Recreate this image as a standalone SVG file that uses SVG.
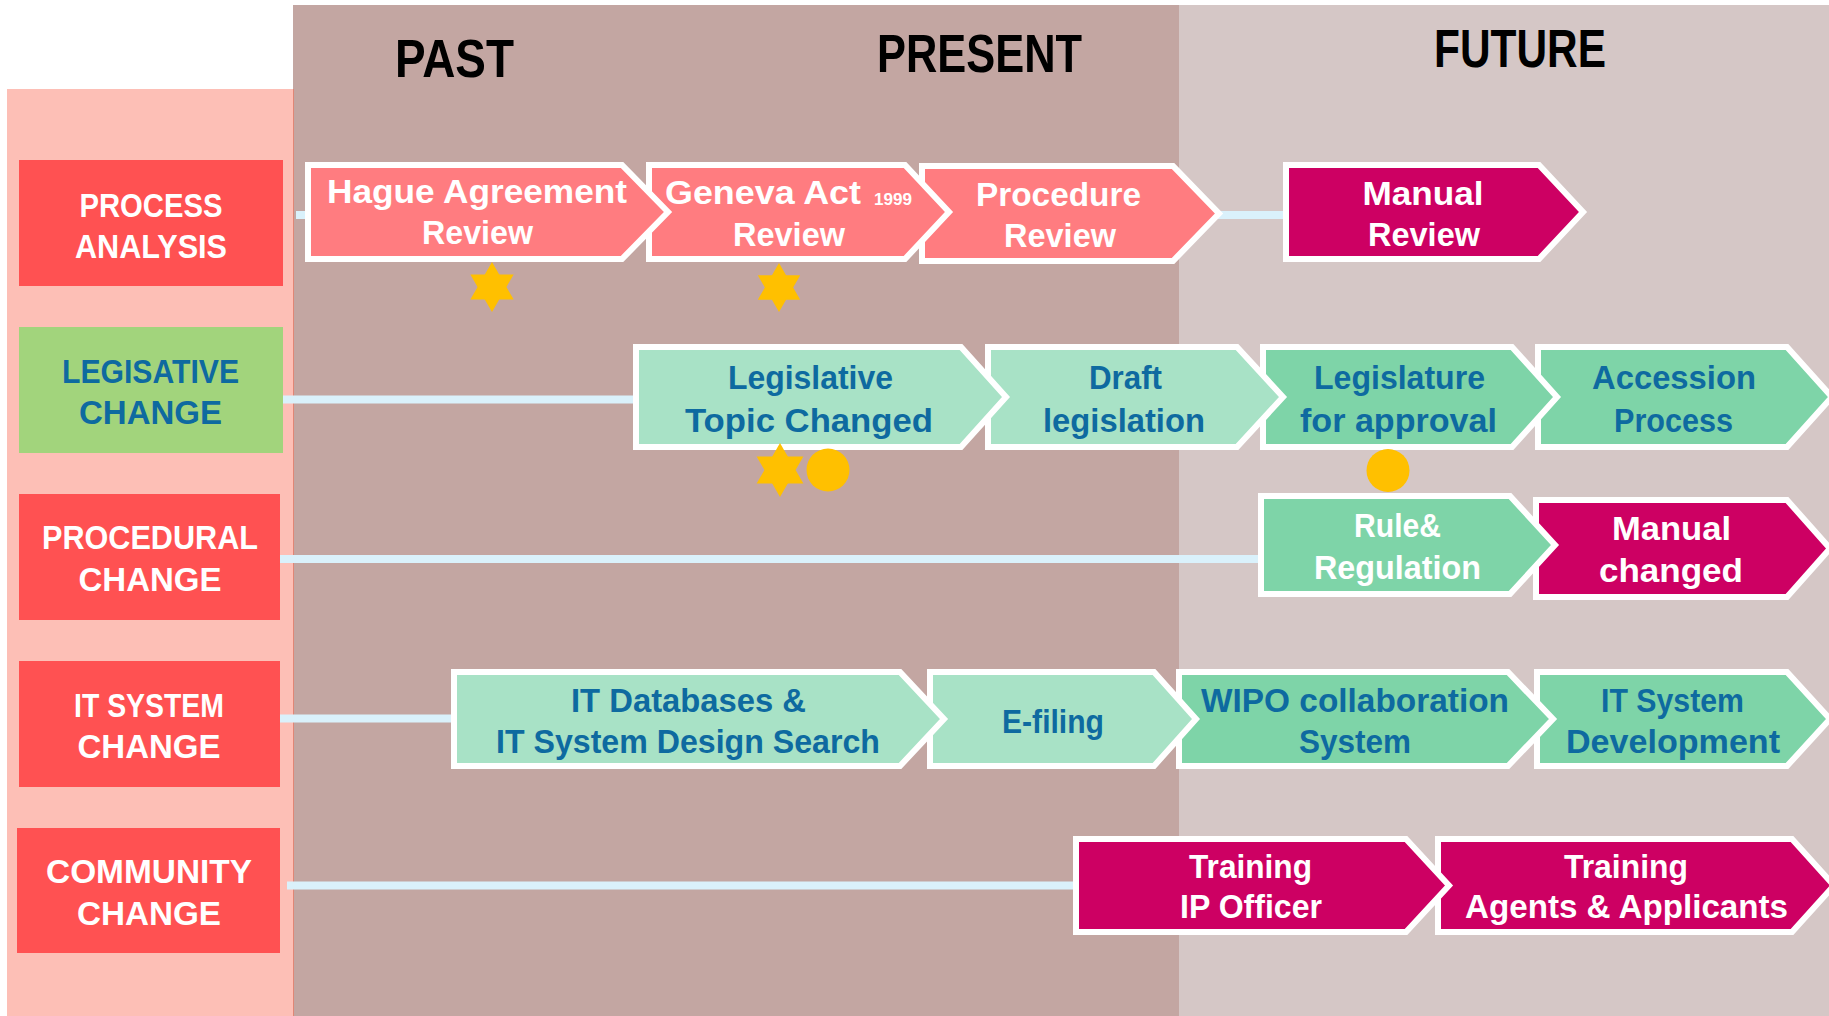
<svg xmlns="http://www.w3.org/2000/svg" width="1829" height="1016" viewBox="0 0 1829 1016">
<style>
text{font-family:"Liberation Sans",Arial,sans-serif;font-weight:bold;}
.hd{font-size:54px;fill:#000;}
.lb{font-size:34px;text-anchor:middle;}
.nt{font-size:33px;text-anchor:middle;}
.w{fill:#fff;}
.b{fill:#0E6AA0;}
.chev{stroke:#fff;stroke-width:6;stroke-linejoin:miter;}
.salmon{fill:#FF7C80;}
.mag{fill:#CD0063;}
.mint{fill:#A8E2C6;}
.green{fill:#7ED4A8;}
.red{fill:#FF5152;}
.lgreen{fill:#A2D47C;}
.conn{stroke:#DAF1FB;stroke-width:8;fill:none;}
.mark{fill:#FFC000;}
</style>
<defs>
<polygon id="star" points="0,-1 0.866,0.5 -0.866,0.5"/>
</defs>
<rect x="0" y="0" width="1829" height="1016" fill="#fff"/>
<rect x="7" y="89" width="286" height="927" fill="#FDBFB6"/>
<rect x="293" y="5" width="886" height="1011" fill="#C3A6A2"/>
<rect x="1179" y="5" width="650" height="1011" fill="#D5C7C6"/>
<line x1="293.5" y1="89" x2="293.5" y2="1016" stroke="#E08676" stroke-width="1"/>

<g id="headers">
<text class="hd" x="395" y="77" textLength="119" lengthAdjust="spacingAndGlyphs">PAST</text>
<text class="hd" x="877" y="72" textLength="205" lengthAdjust="spacingAndGlyphs">PRESENT</text>
<text class="hd" x="1434" y="67" textLength="172" lengthAdjust="spacingAndGlyphs">FUTURE</text>
</g>

<g id="connectors">
<line class="conn" x1="296" y1="215" x2="1290" y2="215"/>
<line class="conn" x1="283" y1="399.5" x2="640" y2="399.5"/>
<line class="conn" x1="280" y1="559" x2="1265" y2="559"/>
<line class="conn" x1="280" y1="718.5" x2="458" y2="718.5"/>
<line class="conn" x1="287" y1="885.5" x2="1080" y2="885.5"/>
</g>

<g id="label-process-analysis">
<rect class="red" x="19" y="160" width="264" height="126"/>
<text class="lb w" x="151" y="217" textLength="143" lengthAdjust="spacingAndGlyphs">PROCESS</text>
<text class="lb w" x="151" y="258" textLength="152" lengthAdjust="spacingAndGlyphs">ANALYSIS</text>
</g>
<g id="label-legislative-change">
<rect class="lgreen" x="19" y="327" width="264" height="126"/>
<text class="lb b" x="150.5" y="383" textLength="177" lengthAdjust="spacingAndGlyphs">LEGISATIVE</text>
<text class="lb b" x="150.5" y="424" textLength="143" lengthAdjust="spacingAndGlyphs">CHANGE</text>
</g>
<g id="label-procedural-change">
<rect class="red" x="19" y="494" width="261" height="126"/>
<text class="lb w" x="150" y="549" textLength="216" lengthAdjust="spacingAndGlyphs">PROCEDURAL</text>
<text class="lb w" x="150" y="591" textLength="143" lengthAdjust="spacingAndGlyphs">CHANGE</text>
</g>
<g id="label-it-system-change">
<rect class="red" x="19" y="661" width="261" height="126"/>
<text class="lb w" x="149" y="717" textLength="150" lengthAdjust="spacingAndGlyphs">IT SYSTEM</text>
<text class="lb w" x="149" y="758" textLength="143" lengthAdjust="spacingAndGlyphs">CHANGE</text>
</g>
<g id="label-community-change">
<rect class="red" x="17" y="828" width="263" height="125"/>
<text class="lb w" x="149" y="883" textLength="206" lengthAdjust="spacingAndGlyphs">COMMUNITY</text>
<text class="lb w" x="149" y="925" textLength="144" lengthAdjust="spacingAndGlyphs">CHANGE</text>
</g>

<!-- Row 1 -->
<g id="manual-review">
<path class="chev mag" d="M1286,165 L1539,165 L1583,212 L1539,259 L1286,259 Z"/>
<text class="nt w" x="1423" y="205" textLength="121" lengthAdjust="spacingAndGlyphs">Manual</text>
<text class="nt w" x="1424" y="246" textLength="112" lengthAdjust="spacingAndGlyphs">Review</text>
</g>
<g id="procedure-review">
<path class="chev salmon" d="M922,166 L1173,166 L1219,213.5 L1173,261 L922,261 Z"/>
<text class="nt w" x="1058.5" y="206" textLength="165" lengthAdjust="spacingAndGlyphs">Procedure</text>
<text class="nt w" x="1060" y="247" textLength="112" lengthAdjust="spacingAndGlyphs">Review</text>
</g>
<g id="geneva-act-review">
<path class="chev salmon" d="M649,165 L905,165 L949,212 L905,259 L649,259 Z"/>
<text class="w" x="665" y="204" font-size="33" textLength="196" lengthAdjust="spacingAndGlyphs">Geneva Act</text>
<text class="w" x="874" y="204.5" font-size="17" textLength="38" lengthAdjust="spacingAndGlyphs">1999</text>
<text class="nt w" x="789" y="246" textLength="112" lengthAdjust="spacingAndGlyphs">Review</text>
</g>
<g id="hague-agreement-review">
<path class="chev salmon" d="M308,165 L622,165 L668,212 L622,259 L308,259 Z"/>
<text class="nt w" x="477" y="203" textLength="300" lengthAdjust="spacingAndGlyphs">Hague Agreement</text>
<text class="nt w" x="477.5" y="244" textLength="111" lengthAdjust="spacingAndGlyphs">Review</text>
</g>

<!-- Row 2 -->
<g id="accession-process">
<path class="chev green" d="M1538,347 L1787,347 L1832,397 L1787,447 L1538,447 Z"/>
<text class="nt b" x="1674" y="389" textLength="164" lengthAdjust="spacingAndGlyphs">Accession</text>
<text class="nt b" x="1673.5" y="432" textLength="119" lengthAdjust="spacingAndGlyphs">Process</text>
</g>
<g id="legislature-for-approval">
<path class="chev green" d="M1263,347 L1512,347 L1557,397 L1512,447 L1263,447 Z"/>
<text class="nt b" x="1399.5" y="389" textLength="171" lengthAdjust="spacingAndGlyphs">Legislature</text>
<text class="nt b" x="1398.5" y="432" textLength="197" lengthAdjust="spacingAndGlyphs">for approval</text>
</g>
<g id="draft-legislation">
<path class="chev mint" d="M988,347 L1237,347 L1283,397 L1237,447 L988,447 Z"/>
<text class="nt b" x="1125.5" y="389" textLength="73" lengthAdjust="spacingAndGlyphs">Draft</text>
<text class="nt b" x="1124" y="432" textLength="162" lengthAdjust="spacingAndGlyphs">legislation</text>
</g>
<g id="legislative-topic-changed">
<path class="chev mint" d="M636,347 L961,347 L1006,397 L961,447 L636,447 Z"/>
<text class="nt b" x="810.5" y="389" textLength="165" lengthAdjust="spacingAndGlyphs">Legislative</text>
<text class="nt b" x="809" y="432" textLength="248" lengthAdjust="spacingAndGlyphs">Topic Changed</text>
</g>

<!-- Row 3 -->
<g id="manual-changed">
<path class="chev mag" d="M1536,500 L1787,500 L1830,548.5 L1787,597 L1536,597 Z"/>
<text class="nt w" x="1671.5" y="540" textLength="119" lengthAdjust="spacingAndGlyphs">Manual</text>
<text class="nt w" x="1671" y="582" textLength="144" lengthAdjust="spacingAndGlyphs">changed</text>
</g>
<g id="rule-regulation">
<path class="chev green" d="M1261,496 L1510,496 L1555,545 L1510,594 L1261,594 Z"/>
<text class="nt w" x="1397.5" y="537" textLength="87" lengthAdjust="spacingAndGlyphs">Rule&amp;</text>
<text class="nt w" x="1397.5" y="579" textLength="167" lengthAdjust="spacingAndGlyphs">Regulation</text>
</g>

<!-- Row 4 -->
<g id="it-system-development">
<path class="chev green" d="M1537,672 L1787,672 L1830,719 L1787,766 L1537,766 Z"/>
<text class="nt b" x="1672.5" y="712" textLength="143" lengthAdjust="spacingAndGlyphs">IT System</text>
<text class="nt b" x="1673" y="753" textLength="214" lengthAdjust="spacingAndGlyphs">Development</text>
</g>
<g id="wipo-collaboration-system">
<path class="chev green" d="M1179,672 L1508,672 L1553,719 L1508,766 L1179,766 Z"/>
<text class="nt b" x="1355" y="712" textLength="308" lengthAdjust="spacingAndGlyphs">WIPO collaboration</text>
<text class="nt b" x="1355" y="753" textLength="112" lengthAdjust="spacingAndGlyphs">System</text>
</g>
<g id="e-filing">
<path class="chev mint" d="M930,672 L1154,672 L1196,719 L1154,766 L930,766 Z"/>
<text class="nt b" x="1053" y="733" textLength="102" lengthAdjust="spacingAndGlyphs">E-filing</text>
</g>
<g id="it-databases-design-search">
<path class="chev mint" d="M454,672 L900,672 L944,719 L900,766 L454,766 Z"/>
<text class="nt b" x="688.5" y="712" textLength="235" lengthAdjust="spacingAndGlyphs">IT Databases &amp;</text>
<text class="nt b" x="688" y="753" textLength="384" lengthAdjust="spacingAndGlyphs">IT System Design Search</text>
</g>

<!-- Row 5 -->
<g id="training-agents-applicants">
<path class="chev mag" d="M1438,839 L1792,839 L1834,885.5 L1792,932 L1438,932 Z"/>
<text class="nt w" x="1626" y="878" textLength="124" lengthAdjust="spacingAndGlyphs">Training</text>
<text class="nt w" x="1626.5" y="918" textLength="323" lengthAdjust="spacingAndGlyphs">Agents &amp; Applicants</text>
</g>
<g id="training-ip-officer">
<path class="chev mag" d="M1076,839 L1406,839 L1449,885.5 L1406,932 L1076,932 Z"/>
<text class="nt w" x="1250.5" y="878" textLength="123" lengthAdjust="spacingAndGlyphs">Training</text>
<text class="nt w" x="1251" y="918" textLength="142" lengthAdjust="spacingAndGlyphs">IP Officer</text>
</g>

<g id="markers">
<g class="mark" transform="translate(492,287) scale(25)"><use href="#star"/><use href="#star" transform="rotate(180)"/></g>
<g class="mark" transform="translate(779,287.5) scale(24.5)"><use href="#star"/><use href="#star" transform="rotate(180)"/></g>
<g class="mark" transform="translate(780,470) scale(27)"><use href="#star"/><use href="#star" transform="rotate(180)"/></g>
<ellipse class="mark" cx="828" cy="470" rx="21.5" ry="21.5"/>
<ellipse class="mark" cx="1388" cy="470.5" rx="21.5" ry="21.5"/>
</g>
</svg>
